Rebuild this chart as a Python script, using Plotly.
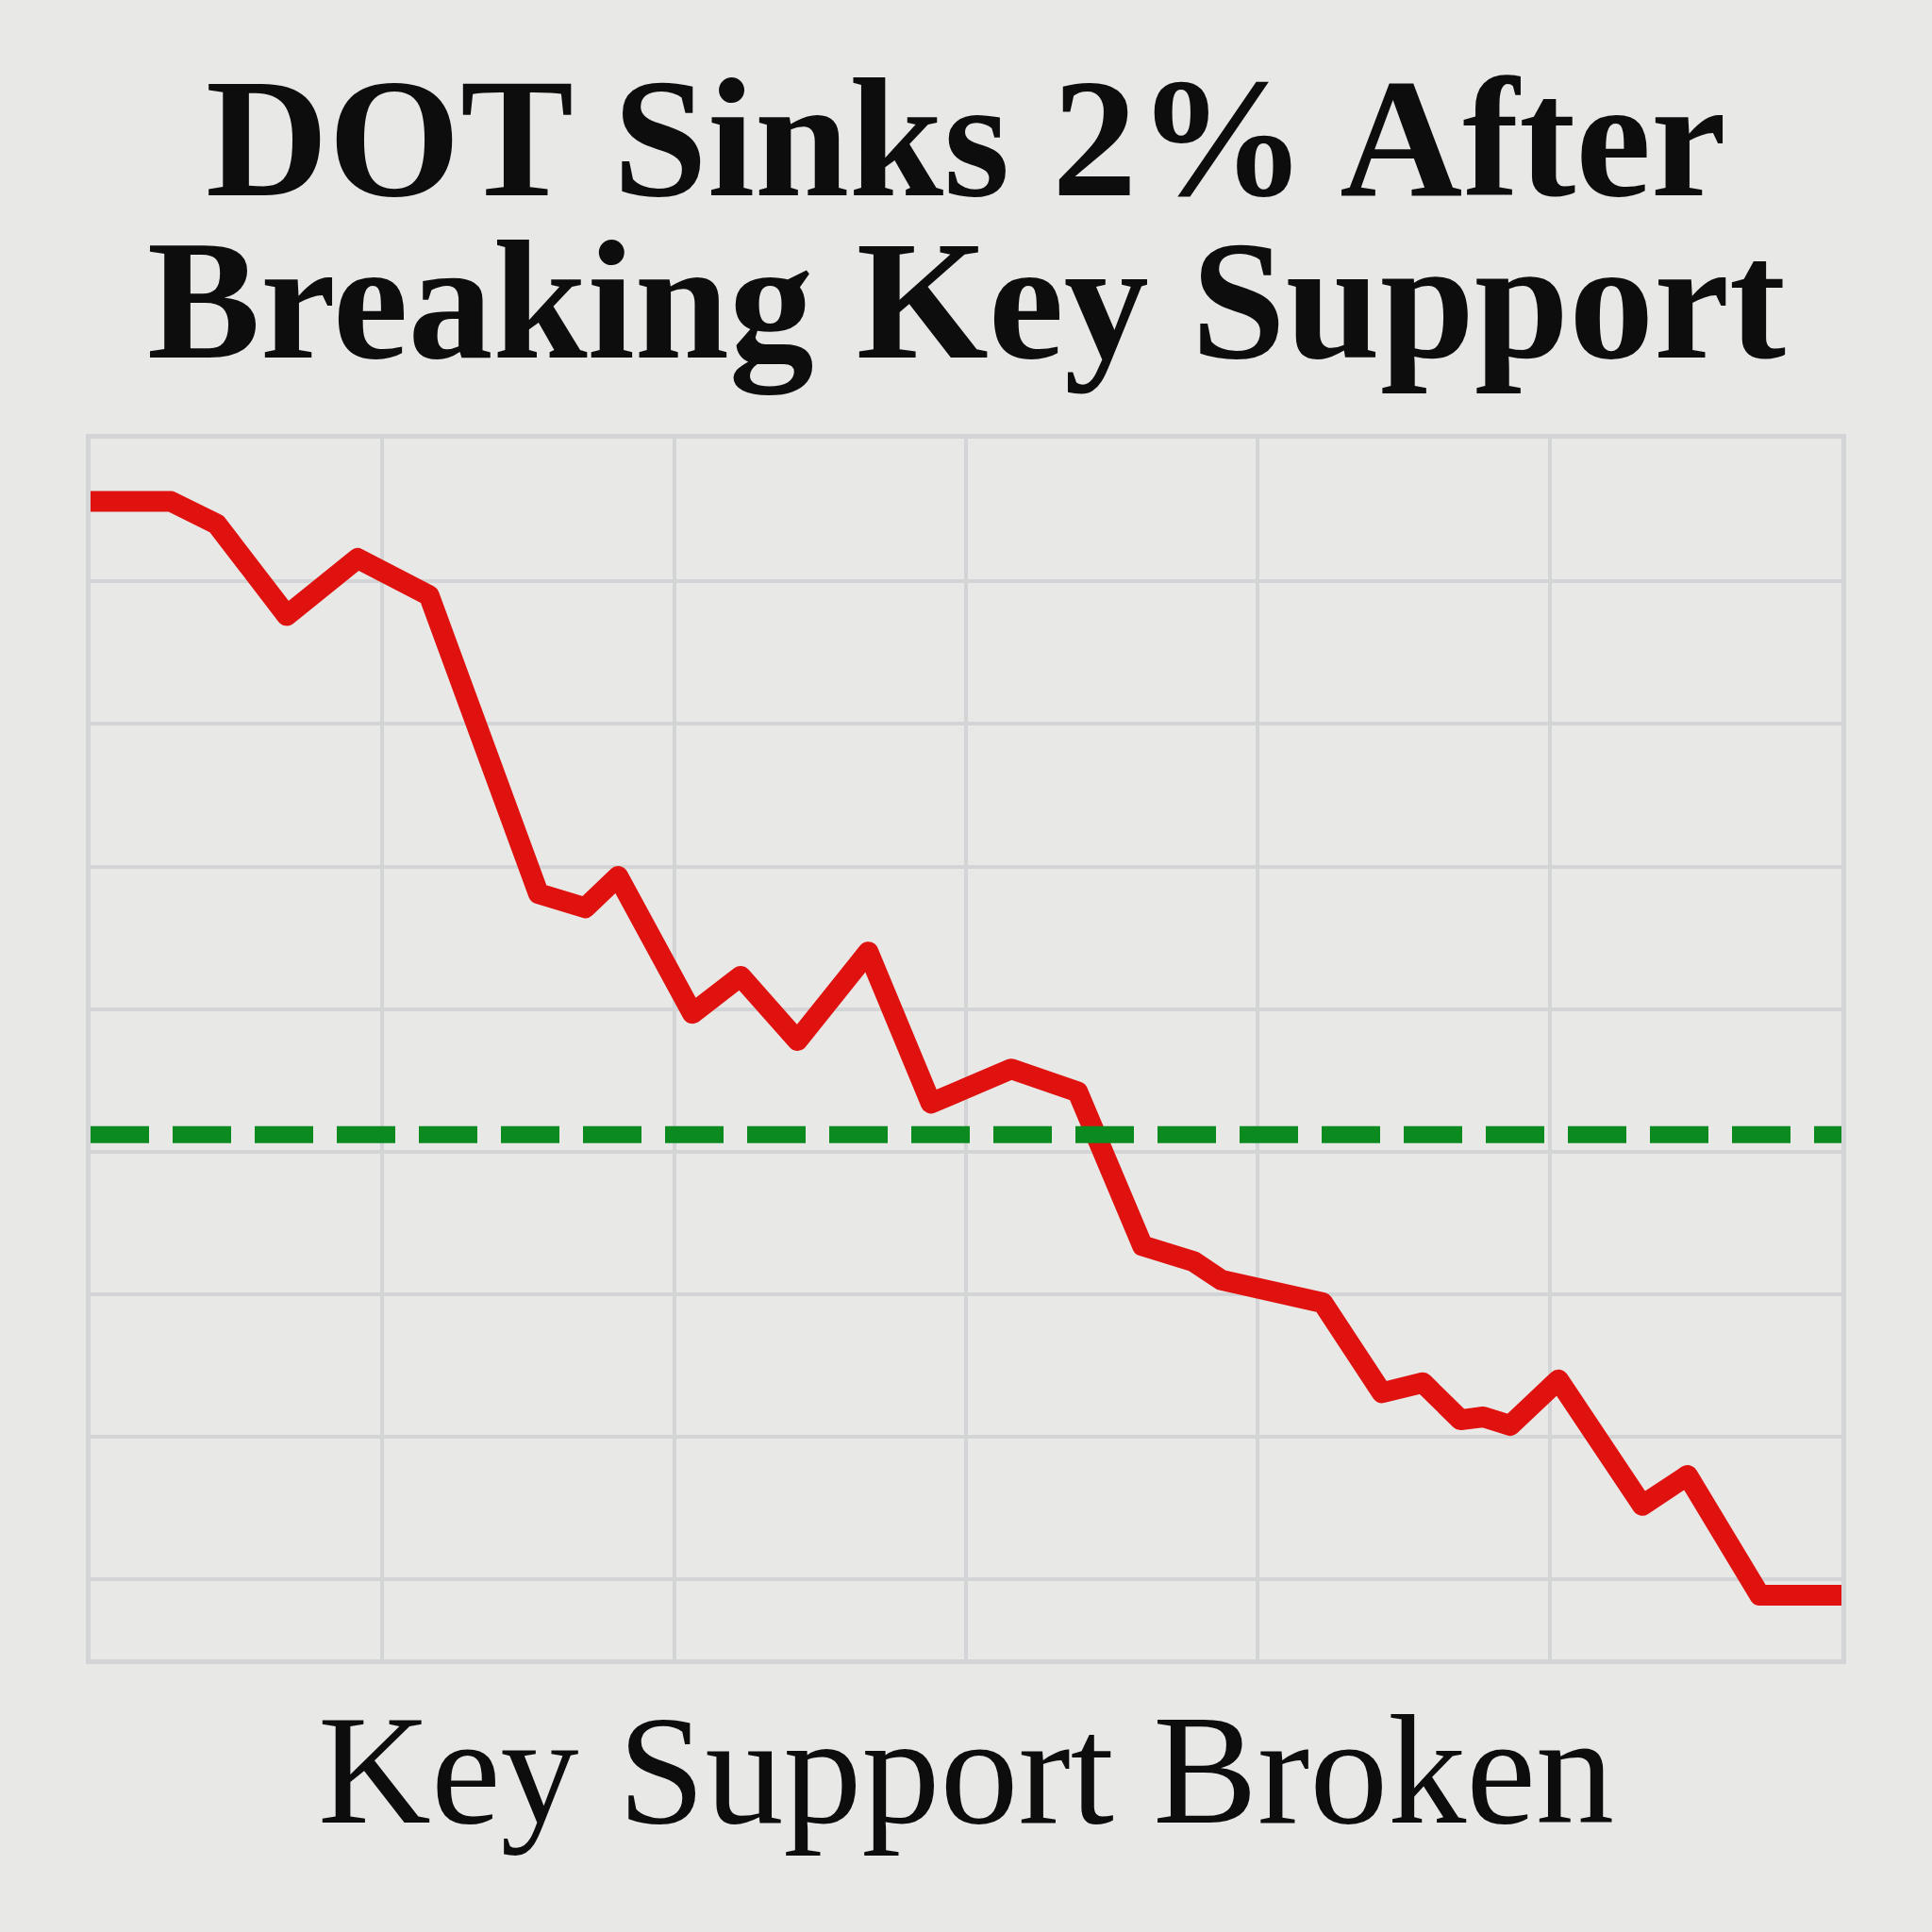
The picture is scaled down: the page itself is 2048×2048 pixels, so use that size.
import plotly.graph_objects as go

# Time (hours) and DOT price values
hours = [0.0, 1.10, 1.73, 2.69, 3.66, 4.64, 6.14, 6.78, 7.23, 8.25, 8.91, 9.69,
         10.66, 11.52, 12.62, 13.53, 14.42, 15.12, 15.50, 16.89, 17.70, 18.26,
         18.78, 19.09, 19.46, 20.12, 21.27, 21.89, 22.88, 24.0]
price = [4.1156, 4.1156, 4.1140, 4.1076, 4.1116, 4.1090, 4.0881, 4.0871, 4.0893,
         4.0797, 4.0823, 4.0778, 4.0840, 4.0734, 4.0758, 4.0742, 4.0634, 4.0623,
         4.0610, 4.0594, 4.0531, 4.0538, 4.0512, 4.0514, 4.0508, 4.0540, 4.0452,
         4.0473, 4.0389, 4.0389]
support_level = 4.0712
support_x = [0.0, 24.0]

title_line1 = "DOT Sinks 2% After"
title_line2 = "Breaking Key Support"
subtitle = "Key Support Broken"

BG = "#e8e8e7"
GRID = "#d3d4d6"

fig = go.Figure()
fig.add_trace(go.Scatter(
    x=hours, y=price, mode="lines",
    line=dict(color="#e0120f", width=22),
    hoverinfo="skip", showlegend=False,
))
fig.add_trace(go.Scatter(
    x=support_x, y=[support_level, support_level], mode="lines",
    line=dict(color="#0b8a1f", width=18, dash="62px,25px"),
    hoverinfo="skip", showlegend=False,
))

fig.update_layout(
    width=2048, height=2048,
    margin=dict(l=96, r=96, t=465, b=289, pad=0),
    paper_bgcolor=BG, plot_bgcolor=BG,
    xaxis=dict(range=[0, 24], tick0=0, dtick=4, showgrid=True, gridcolor=GRID,
               gridwidth=4, showticklabels=False, zeroline=False, ticks="",
               showline=True, linecolor=GRID, linewidth=5, mirror=True,
               fixedrange=True),
    yaxis=dict(range=[4.0344, 4.12], tick0=4.12, dtick=0.01, showgrid=True,
               gridcolor=GRID, gridwidth=4, showticklabels=False,
               zeroline=False, ticks="", showline=True, linecolor=GRID,
               linewidth=5, mirror=True, fixedrange=True),
    showlegend=False,
)

title_font = dict(family="Liberation Serif", size=180, color="#0d0d0d")
fig.add_annotation(text="<b>" + title_line1 + "</b>", xref="paper", yref="paper",
                   x=0.5, y=1.2465, xanchor="center", yanchor="middle",
                   showarrow=False, font=title_font)
fig.add_annotation(text="<b>" + title_line2 + "</b>", xref="paper", yref="paper",
                   x=0.5, y=1.1130, xanchor="center", yanchor="middle",
                   showarrow=False, font=title_font)
fig.add_annotation(text=subtitle, xref="paper", yref="paper",
                   x=0.5, y=-0.0904, xanchor="center", yanchor="middle",
                   showarrow=False,
                   font=dict(family="Liberation Serif", size=166, color="#0d0d0d"))

post = """
document.body.style.margin = '0';
document.body.style.background = '%s';
var paths = document.querySelectorAll('.scatterlayer path.js-line');
paths.forEach(function(p){ p.style.strokeLinejoin = 'round'; });
""" % BG

fig.write_html("out.html", post_script=post,
               config={"displayModeBar": False, "staticPlot": True})
